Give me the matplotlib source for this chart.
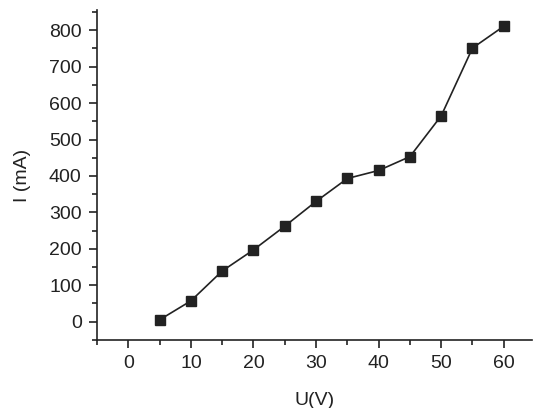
import matplotlib.pyplot as plt
from matplotlib.ticker import MultipleLocator

plt.rcParams['font.family'] = ['Liberation Sans', 'DejaVu Sans']

# measured points
voltage = [5, 10, 15, 20, 25, 30, 35, 40, 45, 50, 55, 60]
current = [5, 57, 139, 197, 262, 330, 393, 415, 453, 565, 751, 811]

fig = plt.figure(figsize=(5.33, 4.08), dpi=100)
ax = fig.add_axes([0.182, 0.167, 0.816, 0.808])
dark = '#222222'
ax.plot(voltage, current, color=dark, lw=1.2, marker='s', ms=6.5, mfc=dark, mec=dark)

ax.set_xlim(-5, 64.5)
ax.set_ylim(-50, 855)
ax.xaxis.set_major_locator(MultipleLocator(10))
ax.xaxis.set_minor_locator(MultipleLocator(5))
ax.yaxis.set_major_locator(MultipleLocator(100))
ax.yaxis.set_minor_locator(MultipleLocator(50))

for s in ['top', 'right']:
    ax.spines[s].set_visible(False)
for s in ['left', 'bottom']:
    ax.spines[s].set_color(dark)
    ax.spines[s].set_linewidth(1.2)

ax.tick_params(which='major', length=6, width=1.2, color=dark, labelsize=14, labelcolor=dark, pad=5)
ax.tick_params(which='minor', length=3.5, width=1.2, color=dark)

ax.set_xlabel('U(V)', fontsize=14, color=dark, labelpad=14)
ax.set_ylabel('I (mA)', fontsize=14, color=dark, labelpad=13)

fig.savefig('out.png', dpi=100)
